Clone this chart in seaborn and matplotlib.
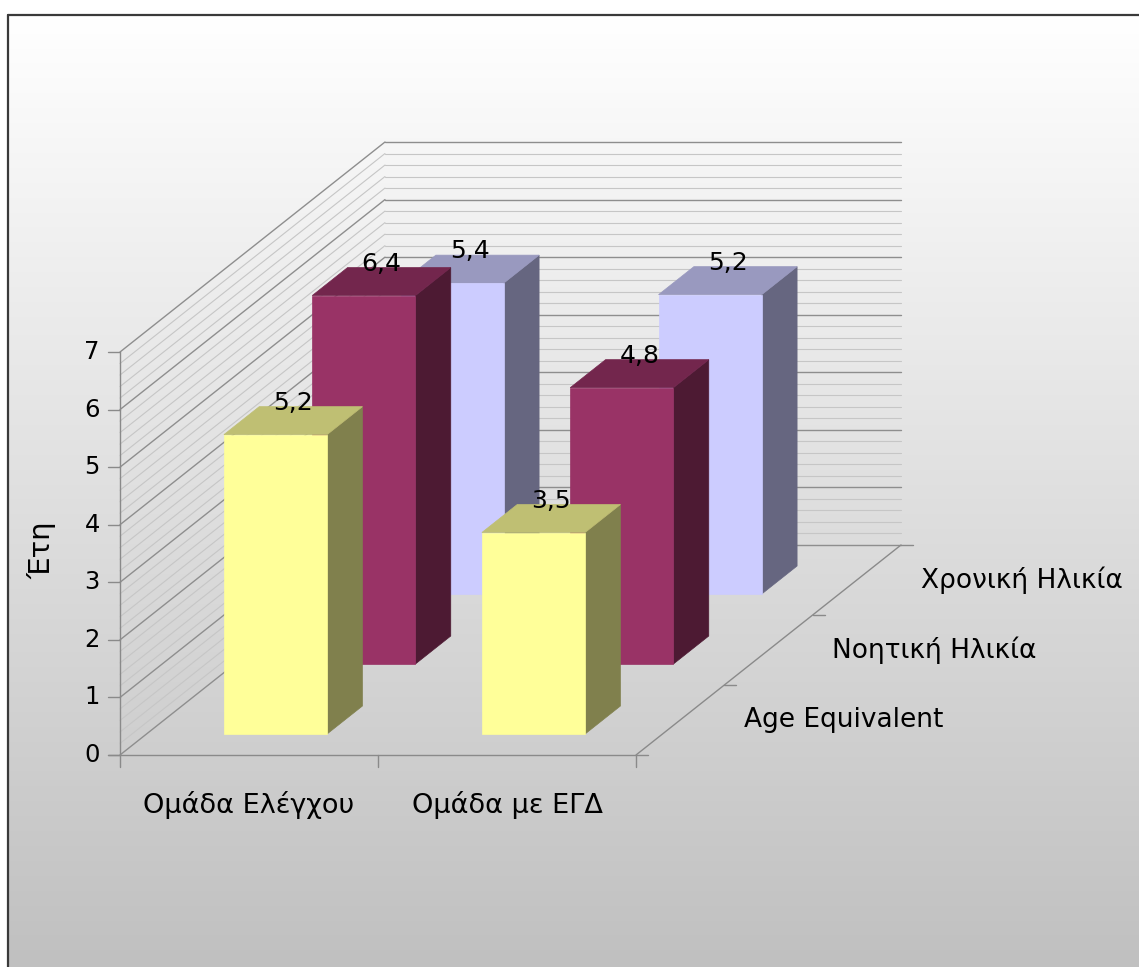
import numpy as np
import matplotlib
matplotlib.use("Agg")
import matplotlib.pyplot as plt
from matplotlib.patches import Polygon
import seaborn as sns

# ---------------- data ----------------
categories = ["Ομάδα Ελέγχου", "Ομάδα με ΕΓΔ"]
series_names = ["Age Equivalent", "Νοητική Ηλικία", "Χρονική Ηλικία"]
age_equivalent = [5.2, 3.5]
noetiki_ilikia = [6.4, 4.8]
chroniki_ilikia = [5.4, 5.2]
y_ticks = [0, 1, 2, 3, 4, 5, 6, 7]
y_label = "Έτη"

series_values = [age_equivalent, noetiki_ilikia, chroniki_ilikia]

# ---------------- style ----------------
sns.set_theme(style="white")
plt.rcParams["font.family"] = ["DejaVu Sans"]

front_colors = ["#FFFF99", "#993366", "#CCCCFF"]
top_colors = ["#BFBF73", "#73264D", "#9999BF"]
side_colors = ["#80804D", "#4D1A33", "#666680"]

W, H = 1139, 967
fig = plt.figure(figsize=(W / 100, H / 100), dpi=100)
fig.patch.set_facecolor("white")

# layout in pixels
ORIG_X, ORIG_Y = 120.0, 755.0      # front-left-bottom corner of the plot box
PX_CAT = 258.0                     # pixels per category along x
PX_VAL = 57.57                     # pixels per value unit
DEPTH_PX = (88.33, 70.0)           # pixel shift per series (right, up)

DX = DEPTH_PX[0] / PX_CAT          # depth shear in data units
DY = DEPTH_PX[1] / PX_VAL

# background axes with gradient + frame
bg = fig.add_axes([0, 0, 1, 1])
bg.set_xlim(0, W)
bg.set_ylim(H, 0)
bg.axis("off")
grad = np.linspace(255, 192, 256)[:, None] / 255.0
grad = np.repeat(grad, 2, axis=1)
bg.imshow(np.dstack([grad, grad, grad]), extent=(8, W + 2, H + 2, 15), aspect="auto", zorder=0)
bg.plot([8, 8], [H + 2, 15], color="#3A3A3A", lw=1.6, zorder=1)
bg.plot([8, W + 2], [15, 15], color="#3A3A3A", lw=1.6, zorder=1)

# main axes in data units (oblique projection)
ax = fig.add_axes([0, 0, 1, 1])
ax.patch.set_alpha(0)
ax.set_xlim(-ORIG_X / PX_CAT, (W - ORIG_X) / PX_CAT)
ax.set_ylim(-(H - ORIG_Y) / PX_VAL, ORIG_Y / PX_VAL)
ax.axis("off")


def P(c, v, s):
    return (c + s * DX, v + s * DY)


n_cat = len(categories)
n_ser = len(series_names)
vmax = max(y_ticks)

# ---- walls gridlines ----
grid_vals = np.round(np.arange(0, vmax + 0.001, 0.2), 2)
for v in grid_vals:
    major = abs(v - round(v)) < 1e-6
    col = "#8E8E8E" if major else "#C6C6C6"
    lw = 1.0 if major else 0.8
    z = 2 if major else 1.5
    a, b = P(0, v, 0), P(0, v, n_ser)
    ax.plot([a[0], b[0]], [a[1], b[1]], color=col, lw=lw, zorder=z)
    c2 = P(n_cat, v, n_ser)
    ax.plot([b[0], c2[0]], [b[1], c2[1]], color=col, lw=lw, zorder=z)

axis_col = "#8A8A8A"
tick_x = 12 / PX_CAT
tick_y = 12 / PX_VAL
# value axis
a, b = P(0, 0, 0), P(0, vmax, 0)
ax.plot([a[0], b[0]], [a[1], b[1]], color=axis_col, lw=1.0, zorder=3)
for t in y_ticks:
    p = P(0, t, 0)
    ax.plot([p[0] - tick_x, p[0]], [p[1], p[1]], color=axis_col, lw=1.0, zorder=3)
    ax.annotate(str(t), xy=p, xytext=(-20 * 0.72, 0), textcoords="offset points",
                ha="right", va="center", fontsize=17.5, color="black")
# category axis (front floor edge)
a, b = P(0, 0, 0), P(n_cat, 0, 0)
ax.plot([a[0] - tick_x, b[0] + tick_x], [a[1], b[1]], color=axis_col, lw=1.0, zorder=3)
for c in range(n_cat + 1):
    p = P(c, 0, 0)
    ax.plot([p[0], p[0]], [p[1], p[1] - tick_y], color=axis_col, lw=1.0, zorder=3)
for c, name in enumerate(categories):
    ax.annotate(name, xy=P(c + 0.5, 0, 0), xytext=(0, -50 * 0.72), textcoords="offset points",
                ha="center", va="center", fontsize=19.5, color="black")
# depth axis
a, b = P(n_cat, 0, 0), P(n_cat, 0, n_ser)
ax.plot([a[0], b[0]], [a[1], b[1]], color=axis_col, lw=1.0, zorder=3)
for s in range(1, n_ser + 1):
    p = P(n_cat, 0, s)
    ax.plot([p[0], p[0] + tick_x], [p[1], p[1]], color=axis_col, lw=1.0, zorder=3)
for s, name in enumerate(series_names):
    ax.annotate(name, xy=P(n_cat, 0, s + 0.5), xytext=(64 * 0.72, 0), textcoords="offset points",
                ha="left", va="center", fontsize=19, color="black")

# ---- bars, back to front ----
bw, bd = 0.4, 0.4
for s in reversed(range(n_ser)):
    vals = series_values[s]
    for c in range(n_cat):
        v = vals[c]
        c0, c1 = c + 0.5 - bw / 2, c + 0.5 + bw / 2
        s0, s1 = s + 0.5 - bd / 2, s + 0.5 + bd / 2
        z = 10 + (n_ser - s) * 3
        front = [P(c0, 0, s0), P(c1, 0, s0), P(c1, v, s0), P(c0, v, s0)]
        top = [P(c0, v, s0), P(c1, v, s0), P(c1, v, s1), P(c0, v, s1)]
        side = [P(c1, 0, s0), P(c1, 0, s1), P(c1, v, s1), P(c1, v, s0)]
        ax.add_patch(Polygon(side, closed=True, facecolor=side_colors[s],
                             edgecolor=side_colors[s], lw=0.5, zorder=z))
        ax.add_patch(Polygon(top, closed=True, facecolor=top_colors[s],
                             edgecolor=top_colors[s], lw=0.5, zorder=z))
        ax.add_patch(Polygon(front, closed=True, facecolor=front_colors[s],
                             edgecolor=front_colors[s], lw=0.5, zorder=z + 1))

# value labels
for s in range(n_ser):
    for c in range(n_cat):
        v = series_values[s][c]
        ax.annotate(f"{v:.1f}".replace(".", ","), xy=P(c + 0.5, v, s + 0.5),
                    xytext=(0, 18 * 0.72), textcoords="offset points",
                    ha="center", va="center", fontsize=18, color="black", zorder=30)

fig.text(42 / W, 1 - 550 / H, y_label, rotation=90, ha="center", va="center",
         fontsize=21, color="black")

fig.savefig("out.png", dpi=100)
